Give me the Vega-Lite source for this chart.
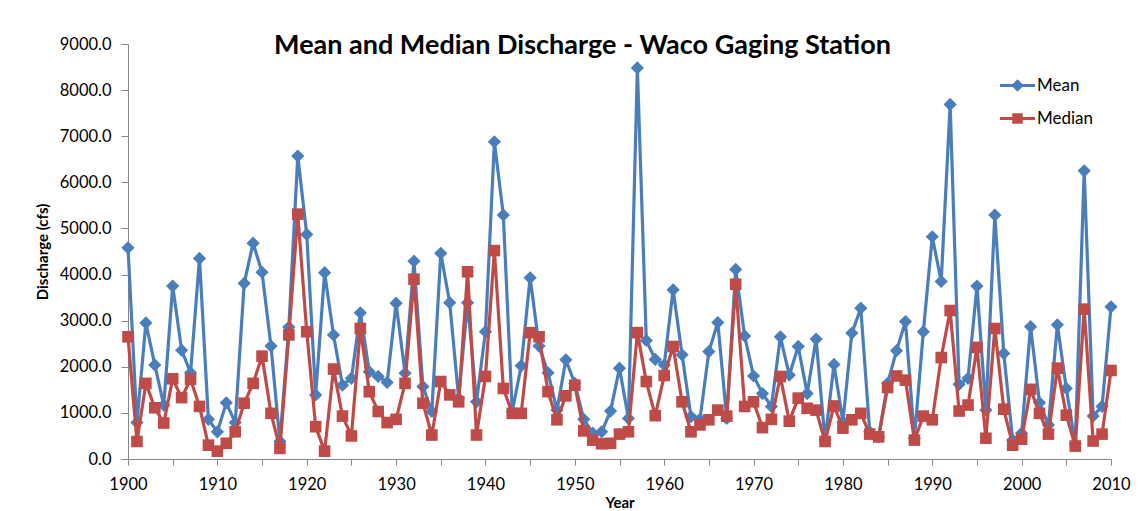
{
  "$schema": "https://vega.github.io/schema/vega-lite/v6.json",
  "autosize": {"type": "none"},
  "width": 983,
  "height": 415,
  "padding": {"left": 128, "top": 44, "right": 29, "bottom": 52},
  "background": "white",
  "config": {
    "font": "Lato",
    "view": {"stroke": null},
    "axis": {"grid": false, "domainColor": "#868686", "tickColor": "#868686", "labelColor": "#000000", "titleColor": "#000000", "labelFont": "Lato", "titleFont": "Lato"}
  },
  "title": {
    "text": "Mean and Median Discharge - Waco Gaging Station",
    "fontSize": 27,
    "fontWeight": "bold",
    "font": "Lato",
    "color": "#000000",
    "anchor": "middle",
    "baseline": "middle",
    "offset": 0,
    "dx": -37,
    "dy": 37
  },
  "data": {
    "values": [
      {"year": 1900, "Mean": 4580, "Median": 2650},
      {"year": 1901, "Mean": 790, "Median": 380},
      {"year": 1902, "Mean": 2950, "Median": 1640},
      {"year": 1903, "Mean": 2040, "Median": 1110},
      {"year": 1904, "Mean": 1170, "Median": 780},
      {"year": 1905, "Mean": 3750, "Median": 1740},
      {"year": 1906, "Mean": 2360, "Median": 1330},
      {"year": 1907, "Mean": 1870, "Median": 1730},
      {"year": 1908, "Mean": 4350, "Median": 1140},
      {"year": 1909, "Mean": 860, "Median": 300},
      {"year": 1910, "Mean": 590, "Median": 170},
      {"year": 1911, "Mean": 1220, "Median": 340},
      {"year": 1912, "Mean": 790, "Median": 590},
      {"year": 1913, "Mean": 3810, "Median": 1210},
      {"year": 1914, "Mean": 4680, "Median": 1640},
      {"year": 1915, "Mean": 4050, "Median": 2230},
      {"year": 1916, "Mean": 2450, "Median": 990},
      {"year": 1917, "Mean": 380, "Median": 230},
      {"year": 1918, "Mean": 2860, "Median": 2690},
      {"year": 1919, "Mean": 6570, "Median": 5310},
      {"year": 1920, "Mean": 4870, "Median": 2760},
      {"year": 1921, "Mean": 1390, "Median": 700},
      {"year": 1922, "Mean": 4040, "Median": 170},
      {"year": 1923, "Mean": 2690, "Median": 1950},
      {"year": 1924, "Mean": 1600, "Median": 930},
      {"year": 1925, "Mean": 1750, "Median": 500},
      {"year": 1926, "Mean": 3170, "Median": 2830},
      {"year": 1927, "Mean": 1890, "Median": 1460},
      {"year": 1928, "Mean": 1790, "Median": 1030},
      {"year": 1929, "Mean": 1660, "Median": 790},
      {"year": 1930, "Mean": 3380, "Median": 860},
      {"year": 1931, "Mean": 1860, "Median": 1640},
      {"year": 1932, "Mean": 4290, "Median": 3900},
      {"year": 1933, "Mean": 1570, "Median": 1210},
      {"year": 1934, "Mean": 1030, "Median": 520},
      {"year": 1935, "Mean": 4460, "Median": 1680},
      {"year": 1936, "Mean": 3390, "Median": 1390},
      {"year": 1937, "Mean": 1320, "Median": 1240},
      {"year": 1938, "Mean": 3390, "Median": 4060},
      {"year": 1939, "Mean": 1240, "Median": 520},
      {"year": 1940, "Mean": 2760, "Median": 1790},
      {"year": 1941, "Mean": 6880, "Median": 4520},
      {"year": 1942, "Mean": 5290, "Median": 1530},
      {"year": 1943, "Mean": 1030, "Median": 990},
      {"year": 1944, "Mean": 2020, "Median": 990},
      {"year": 1945, "Mean": 3930, "Median": 2740},
      {"year": 1946, "Mean": 2450, "Median": 2650},
      {"year": 1947, "Mean": 1870, "Median": 1460},
      {"year": 1948, "Mean": 1060, "Median": 850},
      {"year": 1949, "Mean": 2150, "Median": 1370},
      {"year": 1950, "Mean": 1640, "Median": 1600},
      {"year": 1951, "Mean": 860, "Median": 610},
      {"year": 1952, "Mean": 560, "Median": 410},
      {"year": 1953, "Mean": 590, "Median": 330},
      {"year": 1954, "Mean": 1040, "Median": 340},
      {"year": 1955, "Mean": 1970, "Median": 540},
      {"year": 1956, "Mean": 880, "Median": 590},
      {"year": 1957, "Mean": 8480, "Median": 2740},
      {"year": 1958, "Mean": 2570, "Median": 1680},
      {"year": 1959, "Mean": 2160, "Median": 940},
      {"year": 1960, "Mean": 2040, "Median": 1810},
      {"year": 1961, "Mean": 3670, "Median": 2440},
      {"year": 1962, "Mean": 2260, "Median": 1240},
      {"year": 1963, "Mean": 920, "Median": 590},
      {"year": 1964, "Mean": 860, "Median": 740},
      {"year": 1965, "Mean": 2330, "Median": 850},
      {"year": 1966, "Mean": 2960, "Median": 1060},
      {"year": 1967, "Mean": 880, "Median": 930},
      {"year": 1968, "Mean": 4110, "Median": 3790},
      {"year": 1969, "Mean": 2670, "Median": 1140},
      {"year": 1970, "Mean": 1800, "Median": 1240},
      {"year": 1971, "Mean": 1420, "Median": 680},
      {"year": 1972, "Mean": 1140, "Median": 860},
      {"year": 1973, "Mean": 2650, "Median": 1790},
      {"year": 1974, "Mean": 1820, "Median": 820},
      {"year": 1975, "Mean": 2440, "Median": 1320},
      {"year": 1976, "Mean": 1420, "Median": 1100},
      {"year": 1977, "Mean": 2600, "Median": 1060},
      {"year": 1978, "Mean": 410, "Median": 380},
      {"year": 1979, "Mean": 2050, "Median": 1150},
      {"year": 1980, "Mean": 810, "Median": 670},
      {"year": 1981, "Mean": 2730, "Median": 850},
      {"year": 1982, "Mean": 3270, "Median": 990},
      {"year": 1983, "Mean": 590, "Median": 540},
      {"year": 1984, "Mean": 480, "Median": 480},
      {"year": 1985, "Mean": 1640, "Median": 1550},
      {"year": 1986, "Mean": 2350, "Median": 1800},
      {"year": 1987, "Mean": 2980, "Median": 1710},
      {"year": 1988, "Mean": 450, "Median": 410},
      {"year": 1989, "Mean": 2760, "Median": 930},
      {"year": 1990, "Mean": 4820, "Median": 850},
      {"year": 1991, "Mean": 3850, "Median": 2200},
      {"year": 1992, "Mean": 7690, "Median": 3220},
      {"year": 1993, "Mean": 1620, "Median": 1040},
      {"year": 1994, "Mean": 1750, "Median": 1170},
      {"year": 1995, "Mean": 3750, "Median": 2420},
      {"year": 1996, "Mean": 1060, "Median": 450},
      {"year": 1997, "Mean": 5290, "Median": 2830},
      {"year": 1998, "Mean": 2290, "Median": 1080},
      {"year": 1999, "Mean": 410, "Median": 300},
      {"year": 2000, "Mean": 560, "Median": 430},
      {"year": 2001, "Mean": 2870, "Median": 1510},
      {"year": 2002, "Mean": 1220, "Median": 990},
      {"year": 2003, "Mean": 740, "Median": 540},
      {"year": 2004, "Mean": 2910, "Median": 1970},
      {"year": 2005, "Mean": 1530, "Median": 950},
      {"year": 2006, "Mean": 330, "Median": 280},
      {"year": 2007, "Mean": 6250, "Median": 3250},
      {"year": 2008, "Mean": 930, "Median": 390},
      {"year": 2009, "Mean": 1140, "Median": 540},
      {"year": 2010, "Mean": 3300, "Median": 1920}
    ]
  },
  "transform": [{"fold": ["Mean", "Median"], "as": ["series", "value"]}],
  "encoding": {
    "x": {
      "field": "year",
      "type": "quantitative",
      "scale": {"domain": [1900, 2010], "nice": false, "zero": false},
      "axis": {
        "title": "Year",
        "titleFontSize": 15,
        "titleFontWeight": "bold",
        "titlePadding": 3,
        "values": [1900, 1905, 1910, 1915, 1920, 1925, 1930, 1935, 1940, 1945, 1950, 1955, 1960, 1965, 1970, 1975, 1980, 1985, 1990, 1995, 2000, 2005, 2010],
        "labelExpr": "datum.value % 10 == 0 ? datum.value : ''",
        "labelFlush": false,
        "labelFontSize": 16.5,
        "labelPadding": 11,
        "tickSize": 6
      }
    },
    "y": {
      "field": "value",
      "type": "quantitative",
      "scale": {"domain": [0, 9000], "nice": false},
      "axis": {
        "title": "Discharge (cfs)",
        "titleFontSize": 15,
        "titleFontWeight": "bold",
        "titlePadding": 9,
        "values": [0, 1000, 2000, 3000, 4000, 5000, 6000, 7000, 8000, 9000],
        "format": ".1f",
        "labelFontSize": 16.5,
        "labelPadding": 10,
        "tickSize": 7
      }
    },
    "color": {
      "field": "series",
      "type": "nominal",
      "scale": {"domain": ["Mean", "Median"], "range": ["#4A7EBB", "#BE4B48"]},
      "legend": {
        "title": null,
        "orient": "none",
        "legendX": 872,
        "legendY": 24,
        "labelFontSize": 17,
        "labelColor": "#000000",
        "labelFont": "Lato",
        "rowPadding": 7,
        "symbolSize": 1225,
        "symbolOffset": 0,
        "labelOffset": 2,
        "symbolStrokeWidth": 0,
        "encode": {
          "symbols": {
            "update": {
              "shape": {"signal": "datum.value == 'Mean' ? 'M-1,-0.09L1,-0.09L1,0.09L-1,0.09Z M0,-0.36L0.36,0L0,0.36L-0.36,0Z' : 'M-1,-0.09L1,-0.09L1,0.09L-1,0.09Z M-0.3,-0.3L0.3,-0.3L0.3,0.3L-0.3,0.3Z'"},
              "size": {"value": 1225},
              "strokeWidth": {"value": 0},
              "fill": {"signal": "datum.value == 'Mean' ? '#4A7EBB' : '#BE4B48'"},
              "opacity": {"value": 1}
            }
          }
        }
      }
    }
  },
  "layer": [
    {
      "transform": [{"filter": "datum.series == 'Mean'"}],
      "mark": {"type": "line", "strokeWidth": 3.2}
    },
    {
      "transform": [{"filter": "datum.series == 'Mean'"}],
      "mark": {"type": "point", "shape": "diamond", "filled": true, "opacity": 1, "size": 175}
    },
    {
      "transform": [{"filter": "datum.series == 'Median'"}],
      "mark": {"type": "line", "strokeWidth": 3.2}
    },
    {
      "transform": [{"filter": "datum.series == 'Median'"}],
      "mark": {"type": "point", "shape": "square", "filled": true, "opacity": 1, "size": 135}
    }
  ]
}
